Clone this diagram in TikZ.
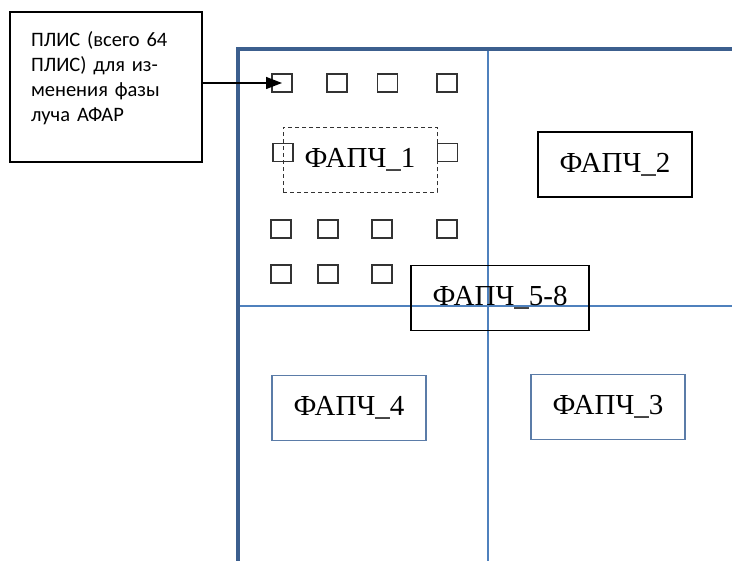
\documentclass[tikz,border=0pt]{standalone}
\usepackage{fontspec}
\setmainfont{Liberation Serif}
\newfontfamily\calibri{Carlito}
\usepackage{tikz}
\usetikzlibrary{arrows.meta}

\definecolor{framebl}{HTML}{3C5F8E}
\definecolor{linebl}{HTML}{4F81BD}
\definecolor{boxbl}{HTML}{5B7CA8}

\begin{document}
\begin{tikzpicture}[x=1pt, y=-1pt,
        sq/.style={draw=black!80, line width=1.1pt, minimum width=20pt, minimum height=18pt, inner sep=0pt},
        fapch/.style={draw, line width=1.2pt, minimum width=154pt, minimum height=65pt, inner sep=0pt, font=\fontsize{29}{32}\selectfont},
        note/.style={draw, line width=1.2pt, minimum width=192pt, minimum height=150pt, text width=150pt, inner sep=0pt, align=left, font=\calibri\fontsize{20.5}{25}\selectfont},
        arrow/.style={-{Triangle[length=16pt, width=12pt]}, line width=1.4pt}
        ]
        \clip (0,0) rectangle (732,561);

        % frame and quarters
        \draw[framebl, line width=4pt] (238,49) rectangle (780,563);
        \draw[linebl, line width=2pt] (488,51) -- (488,561);
        \draw[linebl, line width=2pt] (240,306) -- (732,306);

        % FPGA squares
        \foreach \n/\x/\y in {1/282/83, 2/337/83, 3/387.5/83, 4/447/83,
                5/283/152.5, 6/447.5/152.5,
                7/281/229, 8/328/229, 9/382/229, 10/447/229,
                11/281/274, 12/328/274, 13/382/274}
            \node[sq] (sq\n) at (\x,\y) {};

        \node[fapch, draw=black!80, dash pattern=on 4pt off 3pt, line width=1pt] (f1) at (360,160) {ФАПЧ\_1};
        \node[fapch] (f2) at (615,164.5) {ФАПЧ\_2};
        \node[fapch, minimum width=178pt] (f58) at (500,298) {ФАПЧ\_5-8};
        \node[fapch, draw=boxbl] (f3) at (608,407) {ФАПЧ\_3};
        \node[fapch, draw=boxbl] (f4) at (349,408) {ФАПЧ\_4};

        \node[note] (plis) at (106,87) {ПЛИС (всего 64\\ПЛИС) для из-\\менения фазы\\луча АФАР\\[-4pt]\mbox{}};

        \draw[arrow] (plis.east |- sq1.center) -- (sq1.center);
    \end{tikzpicture}
\end{document}
